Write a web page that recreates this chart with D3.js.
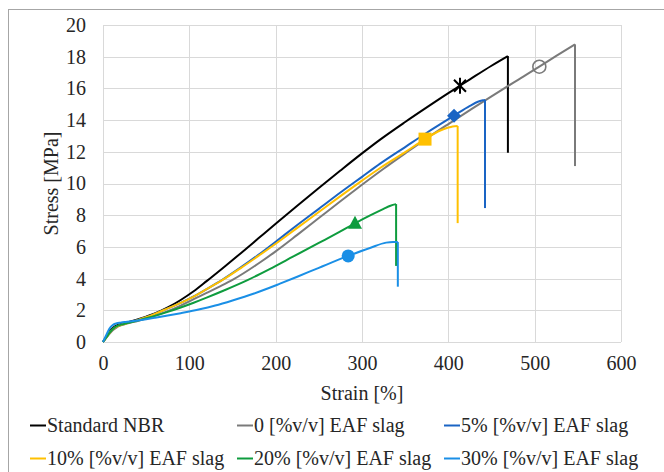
<!DOCTYPE html>
<html>
<head>
<meta charset="utf-8">
<script src="https://cdn.jsdelivr.net/npm/d3@7"></script>
<style>
  html, body { margin: 0; padding: 0; background: #fff; }
  svg { display: block; }
</style>
</head>
<body>
<svg id="chart" width="664" height="472"></svg>
<script>
// ---------------- DATA ----------------
const seriesNames = ["Standard NBR", "0 [%v/v] EAF slag", "5% [%v/v] EAF slag",
                     "10% [%v/v] EAF slag", "20% [%v/v] EAF slag", "30% [%v/v] EAF slag"];

const strainNBR = [0,4,8,12,16,20,25,30,40,50,60,75,90,105,120,140,160,180,200,225,250,275,300,321,350,375,400,413.5,425,450,469];
const stressNBR = [0,0.35,0.7,0.92,1.05,1.12,1.2,1.27,1.42,1.6,1.8,2.18,2.65,3.2,3.84,4.72,5.62,6.54,7.46,8.6,9.72,10.82,11.9,12.77,13.88,14.8,15.7,16.17,16.57,17.43,18.04];

const strain0 = [0,4,8,12,16,20,25,30,40,50,60,75,90,105,120,135,151,180,200,225,250,275,300,325,350,375,400,425,450,475,505.4,525,546.7];
const stress0 = [0,0.28,0.55,0.78,0.93,1.03,1.12,1.2,1.33,1.48,1.65,1.95,2.3,2.7,3.1,3.5,3.95,4.95,5.72,6.76,7.82,8.88,9.92,10.93,11.9,12.85,13.75,14.63,15.5,16.35,17.37,18.05,18.78];

const strain5 = [0,4,8,12,16,20,25,30,40,50,60,75,90,105,120,139,160,180,200,225,250,275,300,321,350,375,406.6,425,435,440,442.5];
const stress5 = [0,0.32,0.62,0.85,0.98,1.07,1.15,1.23,1.38,1.56,1.77,2.12,2.47,2.88,3.34,3.95,4.72,5.5,6.33,7.38,8.4,9.43,10.42,11.25,12.3,13.2,14.28,14.9,15.17,15.25,15.27];

const strain10 = [0,4,8,12,16,20,25,30,40,50,60,75,90,105,120,139,160,180,200,225,250,275,300,321,350,373,390,400,405,410.8];
const stress10 = [0,0.3,0.6,0.83,0.97,1.06,1.14,1.22,1.38,1.56,1.77,2.12,2.47,2.87,3.33,3.93,4.68,5.43,6.2,7.2,8.2,9.2,10.18,10.98,11.98,12.8,13.33,13.53,13.6,13.63];

const strain20 = [0,4,8,12,16,20,25,30,40,50,60,75,90,105,120,140,168,193,220,250,275,291.9,310,325,333,339.5];
const stress20 = [0,0.3,0.6,0.85,1.0,1.08,1.15,1.22,1.35,1.5,1.65,1.9,2.18,2.48,2.8,3.25,3.92,4.6,5.38,6.25,6.98,7.49,8.0,8.4,8.6,8.7];

const strain30 = [0,3,6,9,12,16,20,25,31,40,50,60,75,90,112,130,150,175,193,205,225,250,284,310,328,336,341.5];
const stress30 = [0,0.35,0.7,0.95,1.1,1.18,1.22,1.26,1.29,1.36,1.44,1.53,1.67,1.82,2.06,2.3,2.62,3.06,3.42,3.68,4.12,4.68,5.43,5.95,6.27,6.31,6.31];

// stress at the bottom of the final vertical drop (sample failure)
const breakStress = [11.94, 11.1, 8.45, 7.5, 4.8, 3.49];
// highlighted marker point per series
const markerStrain = [413.5, 505.4, 406.6, 373, 291.9, 284];
const markerStress = [16.17, 17.37, 14.28, 12.8, 7.49, 5.43];

const xTicks = [0, 100, 200, 300, 400, 500, 600];
const yTicks = [0, 2, 4, 6, 8, 10, 12, 14, 16, 18, 20];

// ---------------- STYLE ----------------
const FONT = '"Liberation Serif", "DejaVu Serif", "Times New Roman", Times, serif';
const FS = 20;
const colors = ["#000000", "#7a7a7a", "#1a64c4", "#ffc000", "#0e9c3e", "#1a8fe6"];
const markerTypes = ["asterisk", "hollowCircle", "diamond", "square", "triangle", "circle"];

const strains = [strainNBR, strain0, strain5, strain10, strain20, strain30];
const stresses = [stressNBR, stress0, stress5, stress10, stress20, stress30];

const svg = d3.select("#chart").attr("font-family", FONT);

// outer frame
svg.append("rect").attr("x", 8.5).attr("y", 9.5).attr("width", 720).attr("height", 520)
  .attr("fill", "none").attr("stroke", "#a6a6a6").attr("stroke-width", 1);

const m = { left: 103, right: 621, top: 25, bottom: 342 };
const x = d3.scaleLinear().domain([0, 600]).range([m.left, m.right]);
const y = d3.scaleLinear().domain([0, 20]).range([m.bottom, m.top]);

// gridlines
const grid = svg.append("g");
grid.selectAll(".gy").data(yTicks).enter().append("line")
  .attr("x1", m.left).attr("x2", m.right)
  .attr("y1", d => Math.round(y(d)) + 0.5).attr("y2", d => Math.round(y(d)) + 0.5)
  .attr("stroke", "#d9d9d9").attr("stroke-width", 1);
grid.selectAll(".gx").data(xTicks).enter().append("line")
  .attr("y1", m.top).attr("y2", m.bottom)
  .attr("x1", d => Math.round(x(d)) + 0.5).attr("x2", d => Math.round(x(d)) + 0.5)
  .attr("stroke", "#d9d9d9").attr("stroke-width", 1);

// axes (labels only, via d3 axis)
const xAxis = svg.append("g").attr("transform", `translate(0,${m.bottom})`)
  .call(d3.axisBottom(x).tickValues(xTicks).tickSize(0).tickPadding(14).tickFormat(d3.format("d")));
const yAxis = svg.append("g").attr("transform", `translate(${m.left},0)`)
  .call(d3.axisLeft(y).tickValues(yTicks).tickSize(0).tickPadding(17).tickFormat(d3.format("d")));
[xAxis, yAxis].forEach(a => {
  a.attr("font-family", FONT).attr("font-size", FS);
  a.select(".domain").remove();
  a.selectAll("text").attr("fill", "#262626");
});

// axis titles
svg.append("text").attr("x", (m.left + m.right) / 2).attr("y", 400)
  .attr("text-anchor", "middle").attr("font-size", FS).attr("fill", "#262626").text("Strain [%]");
svg.append("text").attr("transform", `translate(58,${(m.top + m.bottom) / 2}) rotate(-90)`)
  .attr("text-anchor", "middle").attr("font-size", FS).attr("fill", "#262626").text("Stress [MPa]");

// curves
const line = d3.line().x(d => x(d[0])).y(d => y(d[1])).curve(d3.curveMonotoneX);
const plot = svg.append("g");
seriesNames.forEach((name, i) => {
  const pts = strains[i].map((s, k) => [s, stresses[i][k]]);
  plot.append("path").datum(pts).attr("d", line)
    .attr("fill", "none").attr("stroke", colors[i]).attr("stroke-width", 2)
    .attr("stroke-linejoin", "round");
  const last = pts[pts.length - 1];
  plot.append("line")
    .attr("x1", x(last[0])).attr("x2", x(last[0]))
    .attr("y1", y(last[1])).attr("y2", y(breakStress[i]))
    .attr("stroke", colors[i]).attr("stroke-width", 2);
});

// markers
seriesNames.forEach((name, i) => {
  const cx = x(markerStrain[i]), cy = y(markerStress[i]);
  const g = plot.append("g").attr("transform", `translate(${cx},${cy})`);
  const c = colors[i];
  switch (markerTypes[i]) {
    case "asterisk":
      g.append("path").attr("d", "M-6,-6L6,6M-6,6L6,-6M0,-8L0,8")
        .attr("stroke", c).attr("stroke-width", 2).attr("fill", "none");
      break;
    case "hollowCircle":
      g.append("circle").attr("r", 6.5).attr("fill", "none").attr("stroke", c).attr("stroke-width", 1.6);
      break;
    case "diamond":
      g.append("path").attr("d", "M0,-7L7,0L0,7L-7,0Z").attr("fill", c);
      break;
    case "square":
      g.append("rect").attr("x", -6.5).attr("y", -6.5).attr("width", 13).attr("height", 13).attr("fill", c);
      break;
    case "triangle":
      g.append("path").attr("d", "M0,-7.5L7,5.5L-7,5.5Z").attr("fill", c);
      break;
    case "circle":
      g.append("circle").attr("r", 6.5).attr("fill", c);
      break;
  }
});

// legend (3 columns x 2 rows)
const legendCols = [30, 237, 444];
const legendRows = [432, 465];
seriesNames.forEach((name, i) => {
  const lx = legendCols[i % 3], ly = legendRows[Math.floor(i / 3)];
  svg.append("line").attr("x1", lx).attr("x2", lx + 16).attr("y1", ly - 6.5).attr("y2", ly - 6.5)
    .attr("stroke", colors[i]).attr("stroke-width", 2);
  svg.append("text").attr("x", lx + 17).attr("y", ly).attr("font-size", FS)
    .attr("fill", "#262626").text(name);
});
</script>
</body>
</html>
